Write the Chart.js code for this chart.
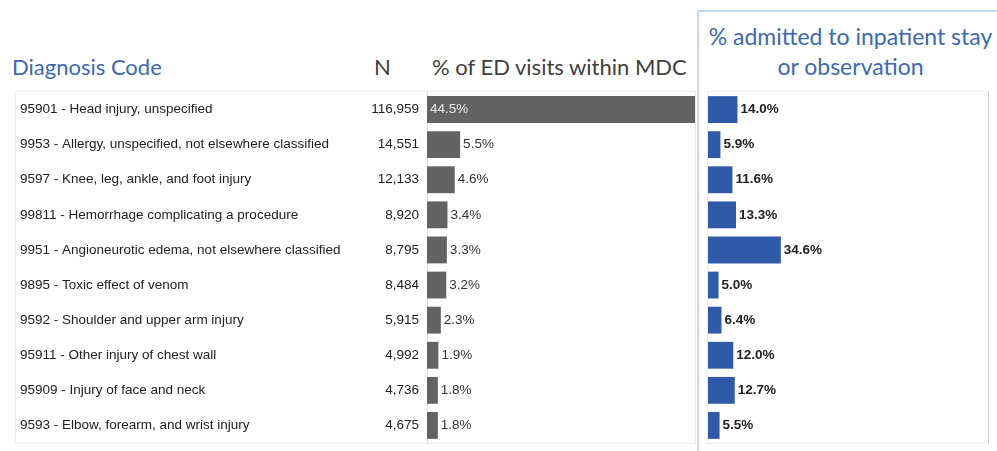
<!DOCTYPE html>
<html>
<head>
<meta charset="utf-8">
<script src="https://cdn.jsdelivr.net/npm/chart.js@4.4.0/dist/chart.umd.min.js"></script>
<style>
  body { margin: 0; background: #fff; width: 997px; height: 451px; overflow: hidden; position: relative; font-family: 'Liberation Sans', Arial, sans-serif; }
  .hdr { position: absolute; font-family: Lato, 'Open Sans', sans-serif; font-size: 22px; white-space: nowrap; line-height: 1; }
  .blue { color: #3c69b3; }
  .gray { color: #404040; }
  #frame { position: absolute; left: 697px; top: 10px; width: 300px; height: 441px; border-left: 2px solid #c4dbf0; border-top: 2px solid #c4dbf0; box-sizing: border-box; }
  .box { position: absolute; border: 1px solid #ececec; box-sizing: border-box; }
  canvas { position: absolute; top: 0; }
</style>
</head>
<body>
<div class="box" style="left:15px; top:91px; width:681px; height:353px;"></div>
<div class="box" style="left:707px; top:91px; width:282px; height:353px; border-right-color:#cfcfcf;"></div>
<div id="frame"></div>

<div class="hdr blue" style="left:12px; top:56px;">Diagnosis Code</div>
<div class="hdr gray" style="left:374px; top:56px;">N</div>
<div class="hdr gray" style="left:432px; top:56px;">% of ED visits within MDC</div>
<div class="hdr blue" style="left:702px; top:21px; width:297px; text-align:center; font-size:23px; line-height:30px;">% admitted to inpatient stay<br>or observation</div>

<canvas id="left" width="697" height="451" style="left:0; width:697px; height:451px;"></canvas>
<canvas id="right" width="297" height="451" style="left:700px; width:297px; height:451px;"></canvas>

<script>
const categories = [
  '95901 - Head injury, unspecified',
  '9953 - Allergy, unspecified, not elsewhere classified',
  '9597 - Knee, leg, ankle, and foot injury',
  '99811 - Hemorrhage complicating a procedure',
  '9951 - Angioneurotic edema, not elsewhere classified',
  '9895 - Toxic effect of venom',
  '9592 - Shoulder and upper arm injury',
  '95911 - Other injury of chest wall',
  '95909 - Injury of face and neck',
  '9593 - Elbow, forearm, and wrist injury'
];
const visitCounts = [116959, 14551, 12133, 8920, 8795, 8484, 5915, 4992, 4736, 4675];
const pctOfVisits = [44.5, 5.5, 4.6, 3.4, 3.3, 3.2, 2.3, 1.9, 1.8, 1.8];
const pctAdmitted = [14.0, 5.9, 11.6, 13.3, 34.6, 5.0, 6.4, 12.0, 12.7, 5.5];

const GRAY = '#636363';
const BLUE = '#2f5aa8';
const FONT = '"Liberation Sans", Arial, sans-serif';

// writes the % next to each bar (inside if it would not fit)
const valueLabels = {
  id: 'valueLabels',
  afterDatasetsDraw(chart, args, opts) {
    const ctx = chart.ctx;
    const meta = chart.getDatasetMeta(0);
    const vals = chart.data.datasets[0].data;
    ctx.save();
    ctx.font = opts.font;
    ctx.textBaseline = 'middle';
    ctx.textAlign = 'left';
    meta.data.forEach((bar, i) => {
      const txt = vals[i].toFixed(1) + '%';
      const w = ctx.measureText(txt).width;
      if (bar.x + 3 + w > chart.chartArea.right) {
        ctx.fillStyle = '#e6e6e6';
        ctx.fillText(txt, bar.base + 3, bar.y);
      } else {
        ctx.fillStyle = opts.color;
        ctx.fillText(txt, bar.x + 3, bar.y);
      }
    });
    ctx.restore();
  }
};

// N column, placed on the category scale
const countColumn = {
  id: 'countColumn',
  afterDraw(chart) {
    const ctx = chart.ctx;
    const y = chart.scales.y;
    ctx.save();
    ctx.font = '13.5px ' + FONT;
    ctx.fillStyle = '#222';
    ctx.textAlign = 'right';
    ctx.textBaseline = 'middle';
    visitCounts.forEach((n, i) => {
      ctx.fillText(n.toLocaleString('en-US'), y.right - 8, y.getPixelForValue(i));
    });
    ctx.restore();
  }
};

new Chart(document.getElementById('left'), {
  type: 'bar',
  data: {
    labels: categories,
    datasets: [{ data: pctOfVisits, backgroundColor: GRAY, borderWidth: 0, barPercentage: 0.9, categoryPercentage: 0.85 }]
  },
  options: {
    indexAxis: 'y',
    responsive: false,
    animation: false,
    layout: { padding: { left: 20, right: 2, top: 92, bottom: 8 } },
    plugins: {
      legend: { display: false },
      tooltip: { enabled: false },
      valueLabels: { font: '13.5px ' + FONT, color: '#333' }
    },
    scales: {
      x: { display: false, min: 0, max: 44.5 },
      y: {
        grid: { display: false, drawTicks: false },
        border: { display: true, color: '#dcdcdc' },
        ticks: { crossAlign: 'far', padding: 0, color: '#222', font: { family: FONT, size: 13.5 } },
        afterFit(scale) {
          scale.width = 407;
          scale.paddingTop = 0;
          scale.paddingBottom = 0;
        }
      }
    }
  },
  plugins: [valueLabels, countColumn]
});

new Chart(document.getElementById('right'), {
  type: 'bar',
  data: {
    labels: categories,
    datasets: [{ data: pctAdmitted, backgroundColor: BLUE, borderWidth: 0, barPercentage: 0.9, categoryPercentage: 0.85 }]
  },
  options: {
    indexAxis: 'y',
    responsive: false,
    animation: false,
    layout: { padding: { left: 8, right: 9, top: 92, bottom: 8 } },
    plugins: {
      legend: { display: false },
      tooltip: { enabled: false },
      valueLabels: { font: 'bold 13.5px ' + FONT, color: '#222' }
    },
    scales: {
      x: { display: false, min: 0, max: 133 },
      y: { display: false }
    }
  },
  plugins: [valueLabels]
});
</script>
</body>
</html>
